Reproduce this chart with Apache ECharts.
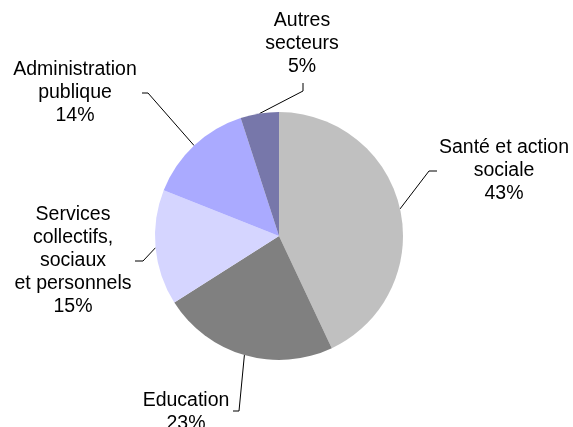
<!DOCTYPE html>
<html>
<head>
<meta charset="utf-8">
<script src="https://cdn.jsdelivr.net/npm/echarts@6/dist/echarts.min.js"></script>
<style>
html, body { margin: 0; padding: 0; background: #fff; }
#main { width: 573px; height: 427px; }
</style>
</head>
<body>
<div id="main"></div>
<script>
// data
var sectors = ['Santé et action\nsociale', 'Education', 'Services\ncollectifs,\nsociaux\net personnels', 'Administration\npublique', 'Autres\nsecteurs'];
var shares = [43, 23, 15, 14, 5];
var colors = ['#c0c0c0', '#808080', '#d5d5ff', '#aaaaff', '#7777aa'];

// label placement (text centre) and elbow of each leader line
var labelPos = [
    {x: 504, y: 171, elbow: [[429, 171], [437, 171]]},
    {x: 186, y: 412, elbow: [[239, 411], [233, 411]]},
    {x: 73, y: 261, elbow: [[143, 261], [135, 261]]},
    {x: 75, y: 93, elbow: [[148, 93], [142, 93]]},
    {x: 302, y: 44, elbow: [[303, 91], [303, 83]]}
];

var myChart = echarts.init(document.getElementById('main'));

var pieData = [];
for (var i = 0; i < sectors.length; i++) {
    pieData.push({name: sectors[i], value: shares[i], itemStyle: {color: colors[i]}});
}

option = {
    animation: false,
    series: [{
        type: 'pie',
        center: [279, 236],
        radius: 124,
        startAngle: 90,
        clockwise: true,
        data: pieData,
        itemStyle: {borderWidth: 0},
        label: {
            show: true,
            position: 'outside',
            alignTo: 'none',
            overflow: 'none',
            formatter: '{b}\n{c}%',
            color: '#000',
            fontFamily: 'Liberation Sans',
            fontSize: 19.5,
            lineHeight: 23,
            align: 'center'
        },
        labelLine: {
            show: true,
            lineStyle: {color: '#000', width: 1}
        },
        labelLayout: function (params) {
            var p = labelPos[params.dataIndex];
            var start = params.labelLinePoints ? params.labelLinePoints[0] : p.elbow[0];
            return {
                x: p.x,
                y: p.y,
                align: 'center',
                verticalAlign: 'middle',
                labelLinePoints: [start, p.elbow[0], p.elbow[1]]
            };
        }
    }]
};

myChart.setOption(option);
</script>
</body>
</html>
